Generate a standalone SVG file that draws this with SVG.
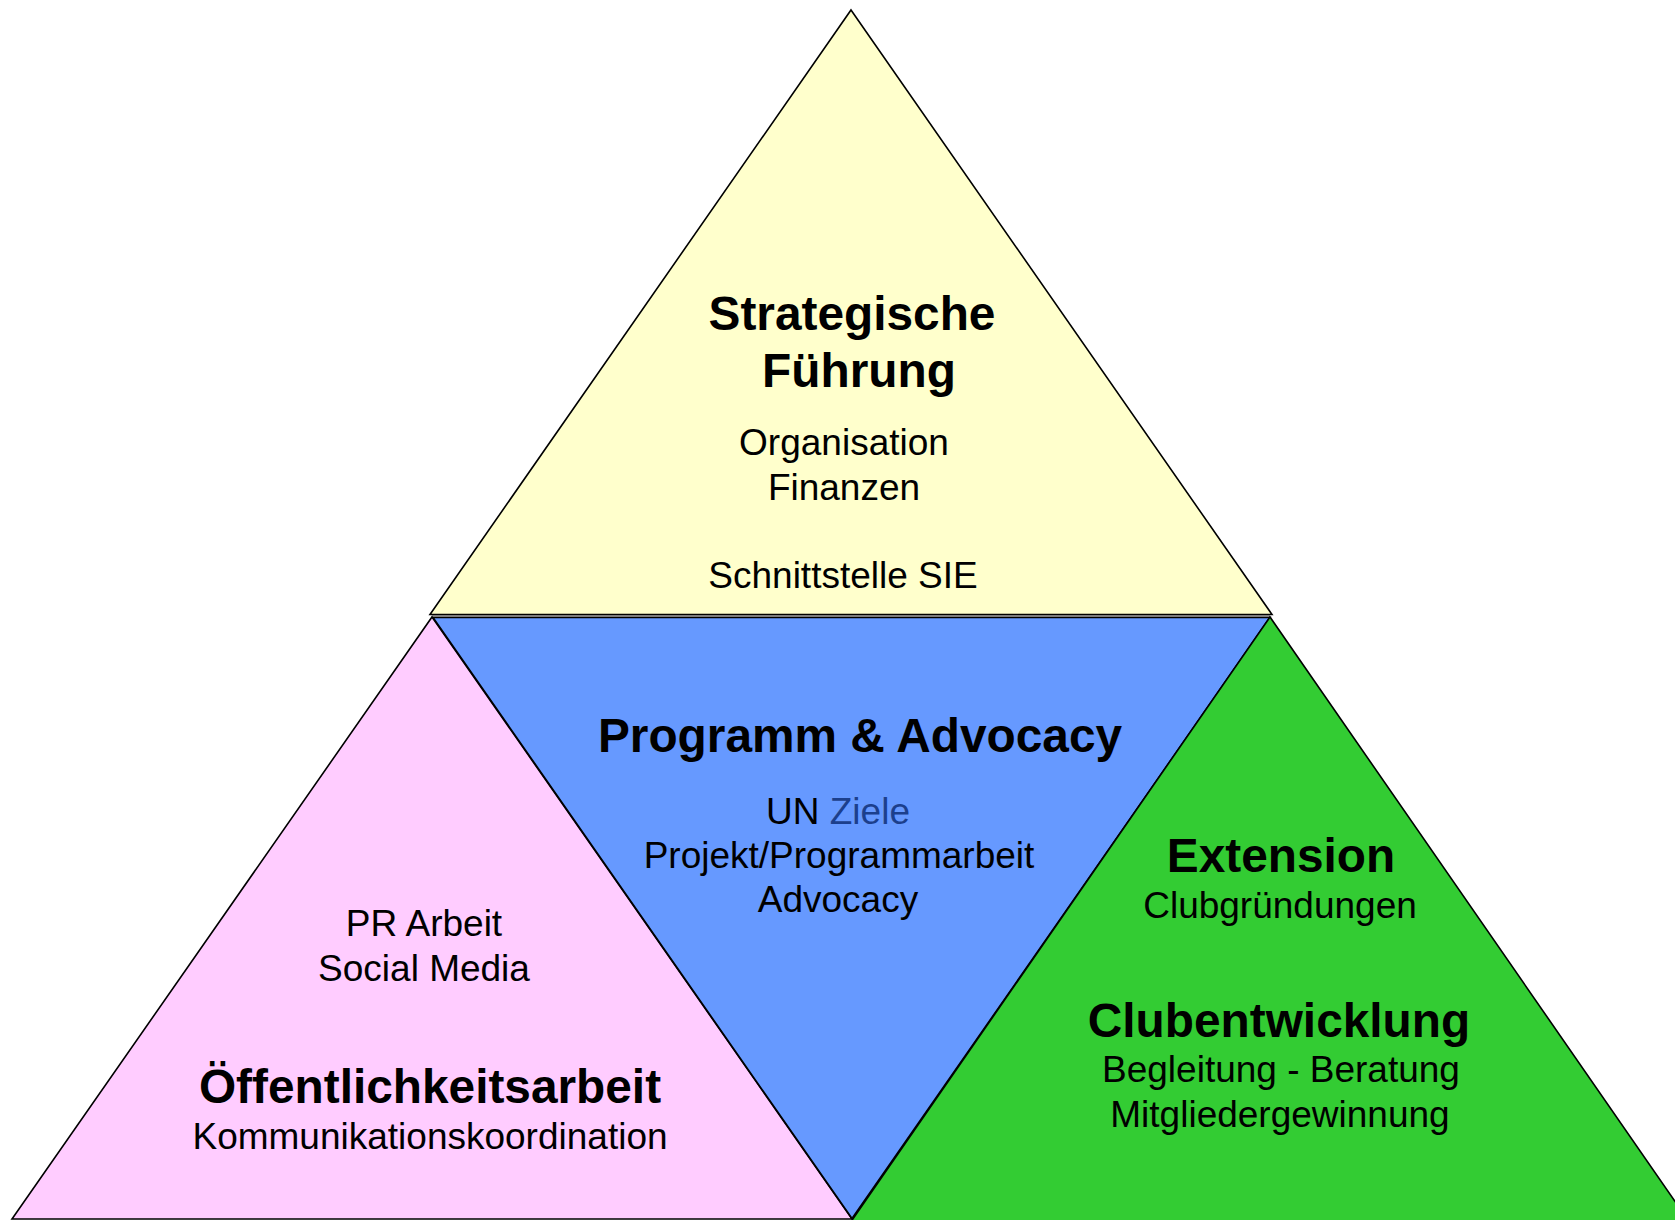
<svg xmlns="http://www.w3.org/2000/svg" width="1675" height="1220" viewBox="0 0 1675 1220">
  <style>
    .tri { stroke: #000; stroke-width: 1.6; stroke-linejoin: miter; }
    .h { font-family: "Liberation Sans", Arial, sans-serif; font-weight: bold; font-size: 47.8px; fill: #000; text-anchor: middle; }
    .t { font-family: "Liberation Sans", Arial, sans-serif; font-size: 37px; fill: #000; text-anchor: middle; }
    .hl { fill: #1C3F8C; }
  </style>
  <rect width="1675" height="1220" fill="#FFFFFF"/>
  <line x1="432" y1="616" x2="1270" y2="616" stroke="#A8A8A8" stroke-width="2"/>
  <g id="strategische-fuehrung">
    <polygon class="tri" fill="#FFFFCC" points="851,10 1272,614.5 430,614.5"/>
    <text class="h" x="852" y="330">Strategische</text>
    <text class="h" x="859" y="387">Führung</text>
    <text class="t" x="844" y="455">Organisation</text>
    <text class="t" x="844" y="500">Finanzen</text>
    <text class="t" x="843" y="588">Schnittstelle SIE</text>
  </g>
  <g id="oeffentlichkeitsarbeit">
    <polygon class="tri" fill="#FFCCFF" points="432,617 852,1219 12,1219"/>
    <text class="t" x="424" y="936">PR Arbeit</text>
    <text class="t" x="424" y="981">Social Media</text>
    <text class="h" x="430" y="1103">Öffentlichkeitsarbeit</text>
    <text class="t" x="430" y="1149">Kommunikationskoordination</text>
  </g>
  <g id="programm-advocacy">
    <polygon class="tri" fill="#6699FF" points="433,617.5 1270,617.5 852,1218.5"/>
    <text class="h" x="860" y="752">Programm &amp; Advocacy</text>
    <text class="t" x="838" y="824">UN <tspan class="hl">Ziele</tspan></text>
    <text class="t" x="839" y="868">Projekt/Programmarbeit</text>
    <text class="t" x="838" y="912">Advocacy</text>
  </g>
  <g id="extension-clubentwicklung">
    <polygon class="tri" fill="#33CC33" points="1270,617 1692,1226 848,1226"/>
    <text class="h" x="1281" y="872">Extension</text>
    <text class="t" x="1280" y="918">Clubgründungen</text>
    <text class="h" x="1279" y="1037">Clubentwicklung</text>
    <text class="t" x="1281" y="1082">Begleitung - Beratung</text>
    <text class="t" x="1280" y="1127">Mitgliedergewinnung</text>
  </g>
</svg>
